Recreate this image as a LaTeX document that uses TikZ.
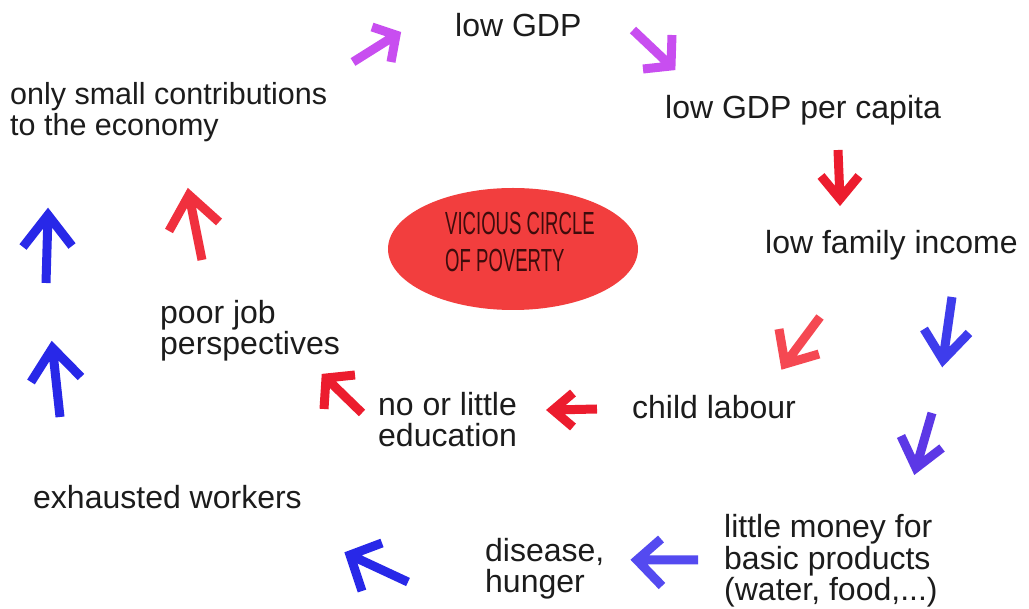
\documentclass[tikz,border=0pt]{standalone}
\usepackage{fontspec}
\setmainfont{Liberation Sans}
\usetikzlibrary{shapes.geometric}
\definecolor{txt}{RGB}{28,28,28}
\definecolor{ellred}{RGB}{242,62,62}
\definecolor{elltxt}{RGB}{62,12,12}
\definecolor{purp}{RGB}{200,78,240}
\definecolor{redA}{RGB}{236,28,46}
\definecolor{redB}{RGB}{245,72,82}
\definecolor{redC}{RGB}{240,48,62}
\definecolor{bluA}{RGB}{40,40,232}
\definecolor{bluB}{RGB}{62,60,236}
\definecolor{bluC}{RGB}{92,56,230}
\definecolor{bluD}{RGB}{84,74,240}
\newcommand{\chevron}[5]{\draw[chev,#1] #2 -- #3 -- #4 #3 -- #5;}
\begin{document}
\begin{tikzpicture}[x=1pt,y=-1pt,
  lbl/.style={inner sep=0pt, anchor=base west, align=left,
    font=\fontsize{32}{31.5}\selectfont, text=txt},
  chev/.style={line width=9pt, line join=miter, miter limit=10, line cap=butt}]
\useasboundingbox (0,0) rectangle (1029,609);
\fill[white] (0,0) rectangle (1029,609);

% centre
\node[ellipse, fill=ellred, minimum width=250pt, minimum height=122pt, inner sep=0pt] (core) at (513,249) {};
\node[inner sep=0pt, anchor=base west, align=left, text=elltxt,
  font=\fontsize{32}{37}\selectfont] (coretext) at (445,272)
  {\scalebox{0.58}[1]{VICIOUS CIRCLE}\\\scalebox{0.58}[1]{OF POVERTY}};

% labels (base = baseline of last line)
\node[lbl] (gdp) at (455,37) {low GDP};
\node[lbl] (gdppc) at (665,119) {low GDP per capita};
\node[lbl] (fam) at (765,254) {low family income};
\node[lbl] (child) at (632,419) {child labour};
\node[lbl] (edu) at (378,447) {no or little\\education};
\node[lbl] (job) at (160,355) {poor job\\perspectives};
\node[lbl, font=\fontsize{30.5}{31.5}\selectfont] (contrib) at (10,136) {only small contributions\\to the economy};
\node[lbl] (exh) at (33,509) {exhausted workers};
\node[lbl] (dis) at (485,593) {disease,\\hunger};
\node[lbl] (money) at (724,601) {little money for\\basic products\\(water, food,...)};

% arrows: wing1, tip, wing2, tail
\chevron{purp}{(372,27)}{(396,35)}{(391,62)}{(353,62)}
\chevron{purp}{(672,35)}{(671,66)}{(643,69)}{(633,30)}
\chevron{redA}{(821,176)}{(840,199)}{(859,176)}{(838,150)}
\chevron{redB}{(779,329)}{(785,364)}{(819,354)}{(820,317)}
\chevron{bluB}{(924,329)}{(943,360)}{(969,333)}{(952,297)}
\chevron{bluC}{(901,436)}{(916,468)}{(942,448)}{(932,413)}
\chevron{redA}{(573,393)}{(553,410)}{(573,427)}{(597,409)}
\chevron{redA}{(355,375)}{(326,378)}{(324,409)}{(362,413)}
\chevron{redC}{(169,231)}{(189,195)}{(219,222)}{(202,260)}
\chevron{bluA}{(23,247)}{(48,215)}{(72,246)}{(46,283)}
\chevron{bluA}{(31,382)}{(52.5,348)}{(81,377)}{(60,417)}
\chevron{bluA}{(382,543)}{(350,555)}{(362,591)}{(408,582)}
\chevron{bluD}{(661,539)}{(637,560)}{(662,586)}{(698,560)}
\end{tikzpicture}
\end{document}
